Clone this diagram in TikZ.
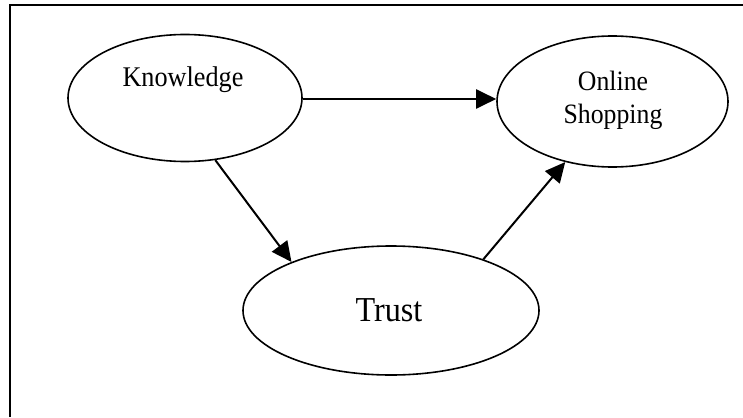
\documentclass[tikz,border=0pt]{standalone}
\usepackage{fontspec}
\setmainfont{Liberation Serif}
\newfontfamily\condserif[FakeStretch=0.92]{Liberation Serif}
\usetikzlibrary{shapes.geometric,arrows.meta}
\begin{document}
\begin{tikzpicture}[x=1pt,y=-1pt,
  oval/.style={draw=black,line width=1.6pt,ellipse,inner sep=0pt},
  lbl/.style={inner sep=0pt,align=center,text=black},
  arr/.style={draw=black,line width=2pt,-{Triangle[length=20pt,width=19pt]}}]
\useasboundingbox (0,0) rectangle (743,417);
\coordinate (fa) at (9.5,417);
\coordinate (fb) at (9.5,5.5);
\coordinate (fc) at (743,5.5);
\draw[line width=2pt,line join=miter] (fa) -- (fb) -- (fc);
\node[oval,minimum width=234pt,minimum height=127pt] (K) at (185,98) {};
\node[oval,minimum width=231pt,minimum height=131pt] (O) at (612.5,101.5) {};
\node[oval,minimum width=296pt,minimum height=129pt] (T) at (391,310.5) {};
\node[lbl,font=\condserif\fontsize{28.5}{30}\selectfont] (Kt) at (183,80) {Knowledge};
\node[lbl,font=\condserif\fontsize{28}{33}\selectfont] (Ot) at (613,100) {Online\\Shopping};
\node[lbl,font=\condserif\fontsize{35}{38}\selectfont] (Tt) at (389,310) {Trust};
\draw[arr] (K.east |- 0,99) -- (O.west |- 0,99);
\draw[arr] (K.-64) -- (T.154);
\draw[arr] (T.29) -- (O.232);
\end{tikzpicture}
\end{document}
